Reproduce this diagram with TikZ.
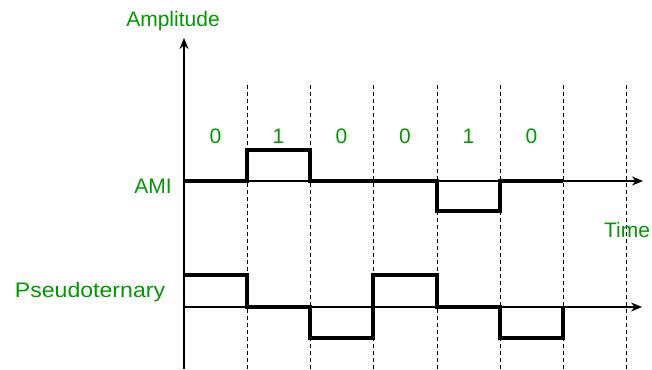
\documentclass[tikz,border=0pt]{standalone}
\usepackage{fontspec}
\setmainfont{Liberation Sans}
\usetikzlibrary{arrows.meta}
\definecolor{labelgreen}{RGB}{0,153,0}
\begin{document}
\begin{tikzpicture}[x=1pt,y=-1pt,
  lbl/.style={text=labelgreen, font=\fontsize{21}{25}\selectfont, inner sep=0pt},
  axisline/.style={line width=1.2pt, -{Stealth[length=11pt,width=9pt]}},
  slot/.style={line width=1pt, dash pattern=on 4pt off 3pt},
  wave/.style={line width=3.5pt, line join=miter}]
\useasboundingbox (0,0) rectangle (652,369);

% bit-slot boundaries
\foreach \x in {247,310,373,437,500,563,626}
  \draw[slot] (\x,85) -- (\x,369);

% axes
\coordinate (ybot) at (184,369);
\coordinate (ytop) at (184,38);
\coordinate (amiL) at (184,181);
\coordinate (amiR) at (643,181);
\coordinate (ptL) at (184,307);
\coordinate (ptR) at (642,307);
\draw[axisline] (ybot) -- (ytop);
\draw[axisline] (amiL) -- (amiR);
\draw[axisline] (ptL) -- (ptR);

% AMI waveform
\draw[wave] (amiL) -- (247,181) -- (247,150) -- (310,150) -- (310,181)
  -- (437,181) -- (437,211) -- (500,211) -- (500,181) -- (563,181);

% Pseudoternary waveform
\draw[wave] (184,275) -- (247,275) -- (247,307) -- (310,307) -- (310,338)
  -- (373,338) -- (373,275) -- (437,275) -- (437,307) -- (500,307)
  -- (500,338) -- (563,338) -- (563,307);

% labels
\node[lbl, anchor=base] (amp) at (173,27) {Amplitude};
\node[lbl, anchor=base east] (ami) at (172,193) {AMI};
\node[lbl, anchor=base, xscale=1.1] (pt) at (90,297) {Pseudoternary};
\node[lbl, anchor=base] (time) at (627,237) {Time};

% bit values
\foreach \x/\b [count=\i] in {215.5/0,278.5/1,341.5/0,405/0,468.5/1,531.5/0}
  \node[lbl, anchor=base] (bit\i) at (\x,143) {\b};
\end{tikzpicture}
\end{document}
